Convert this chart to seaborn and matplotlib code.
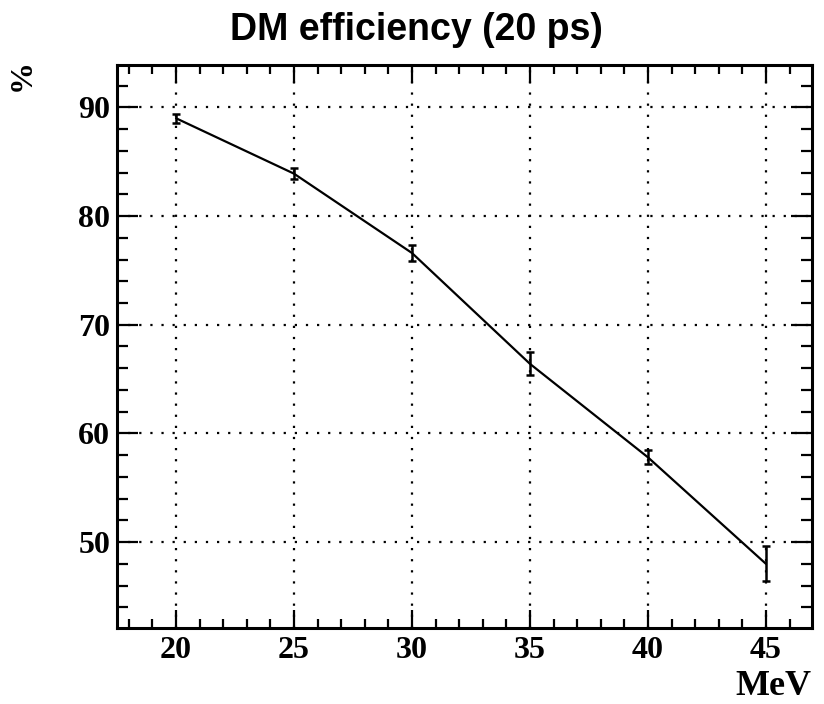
import matplotlib
matplotlib.use("Agg")
import matplotlib.pyplot as plt
from matplotlib.ticker import MultipleLocator
import pandas as pd
import seaborn as sns

# Dark-matter efficiency vs beam energy
energy_mev = [20, 25, 30, 35, 40, 45]
efficiency_pct = [89.0, 83.9, 76.6, 66.4, 57.8, 48.0]
efficiency_err = [0.4, 0.5, 0.7, 1.05, 0.65, 1.6]
x_ticks = [20, 25, 30, 35, 40, 45]
y_ticks = [50, 60, 70, 80, 90]

df = pd.DataFrame({"energy": energy_mev, "eff": efficiency_pct, "err": efficiency_err})

sns.set_theme(style="ticks")
plt.rcParams["font.family"] = ["Liberation Serif", "DejaVu Serif"]
for key in ["text.color", "axes.labelcolor", "xtick.color", "ytick.color", "axes.edgecolor"]:
    plt.rcParams[key] = "black"

fig = plt.figure(figsize=(8.24, 7.04), dpi=100)
ax = fig.add_axes([0.142, 0.108, 0.8434, 0.7997])

sns.lineplot(data=df, x="energy", y="eff", ax=ax, color="black", linewidth=1.6,
             errorbar=None, sort=False, zorder=3)
ax.errorbar(df["energy"], df["eff"], yerr=df["err"], fmt="none", ecolor="black",
            elinewidth=1.8, capsize=3.0, capthick=1.8, zorder=4)

ax.set_xlim(17.5, 46.95)
ax.set_ylim(42.1, 93.9)
ax.set_xticks(x_ticks)
ax.set_yticks(y_ticks)
ax.xaxis.set_minor_locator(MultipleLocator(1))
ax.yaxis.set_minor_locator(MultipleLocator(2))

ax.grid(True, which="major", color="black", linestyle=(0, (1.0, 4.0)), linewidth=1.6)
ax.tick_params(which="both", direction="in", top=True, right=True, width=1.6,
               labelsize=23, color="black")
ax.tick_params(axis="x", which="major", length=13, pad=6)
ax.tick_params(axis="x", which="minor", length=6.5)
ax.tick_params(axis="y", which="major", length=15, pad=5)
ax.tick_params(axis="y", which="minor", length=8)
for lab in ax.get_xticklabels() + ax.get_yticklabels():
    lab.set_fontweight("bold")
for sp in ax.spines.values():
    sp.set_linewidth(2.2)
    sp.set_color("black")
    sp.set_visible(True)

ax.set_xlabel("")
ax.set_ylabel("")
fig.text(0.985, 0.013, "MeV", ha="right", va="baseline", fontsize=26, fontweight="bold")
fig.text(0.027, 0.893, "%", ha="center", va="center", fontsize=23, fontweight="bold",
         rotation=90)
fig.text(0.505, 0.958, "DM efficiency (20 ps)", ha="center", va="center", fontsize=27,
         fontweight="bold", family=["Liberation Sans", "DejaVu Sans"])

fig.savefig("out.png", dpi=100)
